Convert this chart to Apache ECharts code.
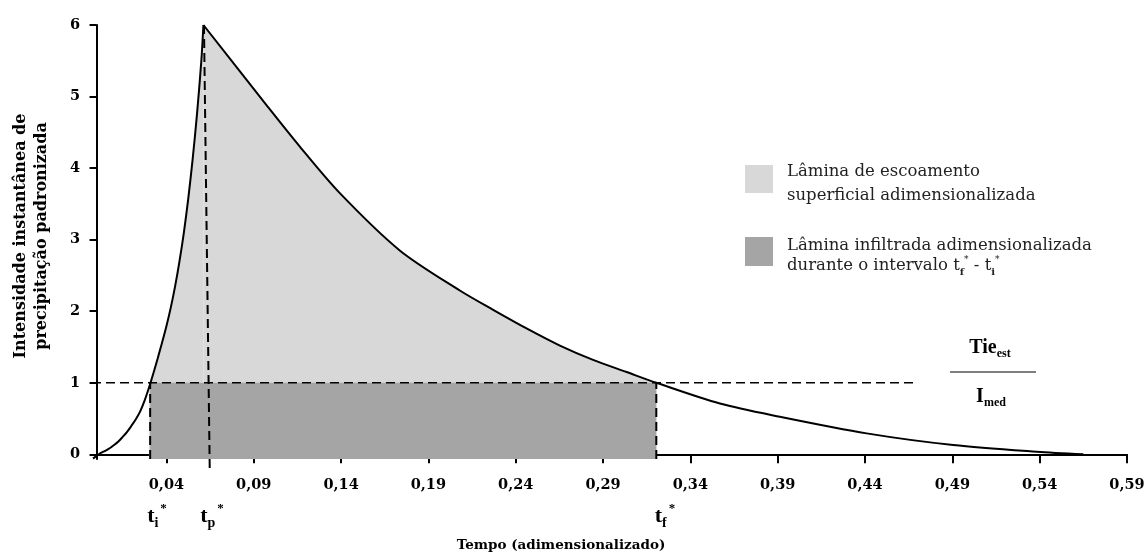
<!DOCTYPE html>
<html>
<head>
    <meta charset="UTF-8">
    <title>Intensidade instantânea de precipitação padronizada</title>
    <script src="https://cdn.jsdelivr.net/npm/echarts@6/dist/echarts.min.js"></script>
    <style>
        html, body { margin: 0; padding: 0; background: #fff; }
        #chart { width: 1144px; height: 554px; }
    </style>
</head>
<body>
    <div id="chart"></div>

    <script>
        // curva ascendente (até o pico)
        const riseT = [-0.002, 0.0025, 0.005, 0.0075, 0.01, 0.0125, 0.015, 0.0175, 0.02, 0.0225, 0.025, 0.0275,
                       0.03, 0.0325, 0.035, 0.0375, 0.04, 0.0425, 0.045, 0.0475, 0.05, 0.0525, 0.055, 0.0575,
                       0.06, 0.0612];
        const riseY = [-0.06, 0.02, 0.05, 0.085, 0.13, 0.18, 0.245, 0.315, 0.40, 0.49, 0.60, 0.75,
                       0.93, 1.13, 1.34, 1.56, 1.79, 2.05, 2.35, 2.70, 3.1, 3.57, 4.12, 4.75,
                       5.5, 6];

        // curva descendente (recessão)
        const fallT = [0.0612, 0.0973, 0.1164, 0.1393, 0.1736, 0.2080, 0.2271, 0.2462, 0.2653, 0.2843, 0.3035, 0.3205,
                       0.3569, 0.3913, 0.4409, 0.4905, 0.5383, 0.565];
        const fallY = [6, 4.88, 4.30, 3.65, 2.85, 2.29, 2.02, 1.76, 1.52, 1.32, 1.15, 1.0,
                       0.71, 0.525, 0.293, 0.13, 0.036, 0];

        // instantes característicos
        const ti = 0.0307;
        const tf = 0.3205;
        const tpTop = [0.0615, 6];
        const tpBottom = [0.0648, -0.19];
        const tieLevel = 1;
        const tieEnd = 0.4703;

        // rótulos dos eixos
        const xTicks = [0.04, 0.09, 0.14, 0.19, 0.24, 0.29, 0.34, 0.39, 0.44, 0.49, 0.54, 0.59];
        const yTicks = [0, 1, 2, 3, 4, 5, 6];

        const xMin = -0.0026, xMax = 0.59;
        const yMin = -0.065, yMax = 6;

        const rise = riseT.map((t, i) => [t, riseY[i]]);
        const fall = fallT.map((t, i) => [t, fallY[i]]);
        // a área clara começa no ponto da curva logo antes de ti (o retângulo escuro cobre o resto)
        const riseFill = rise.filter(p => p[0] >= ti - 0.001);
        const fallFill = fall.filter(p => p[0] <= tf);

        const serif = 'DejaVu Serif';
        const times = 'Liberation Serif';
        const LIGHT = '#d8d8d8';
        const DARK = '#a5a5a5';
        const dash = [9, 5];
        const SMOOTH = 0.3;

        const chart = echarts.init(document.getElementById('chart'));

        function dashed(data, width, extra) {
            return Object.assign({
                type: 'line',
                data: data,
                symbol: 'none',
                z: 3,
                silent: true,
                lineStyle: { color: '#000', width: width, type: dash }
            }, extra || {});
        }

        function fill(data, color, smooth, z) {
            return {
                type: 'line',
                data: data,
                symbol: 'none',
                smooth: smooth,
                z: z,
                silent: true,
                lineStyle: { width: 0, opacity: 0 },
                areaStyle: { color: color, opacity: 1, origin: 'start' }
            };
        }

        function curve(data) {
            return {
                type: 'line',
                data: data,
                symbol: 'none',
                smooth: SMOOTH,
                z: 5,
                silent: true,
                lineStyle: { color: '#000', width: 2 }
            };
        }

        const tLabel = (sub, x, y) => ({
            type: 'text',
            x: x, y: y,
            style: {
                text: '{t|t}{s|' + sub + '}{u|*}',
                align: 'center',
                verticalAlign: 'middle',
                rich: {
                    t: { fontFamily: times, fontWeight: 'bold', fontSize: 22, lineHeight: 28, fill: '#000', verticalAlign: 'middle' },
                    s: { fontFamily: times, fontWeight: 'bold', fontSize: 14, lineHeight: 15, fill: '#000', verticalAlign: 'bottom' },
                    u: { fontFamily: times, fontWeight: 'bold', fontSize: 13, lineHeight: 12, fill: '#000', verticalAlign: 'top', padding: [0, 0, 0, 2] }
                }
            }
        });

        const legendText = (text, x, y) => ({
            type: 'text',
            x: x, y: y,
            style: {
                text: text,
                fontFamily: serif,
                fontSize: 16.5,
                fill: '#222',
                verticalAlign: 'middle'
            }
        });

        const option = {
            animation: false,
            grid: { left: 92, right: 17, top: 25, bottom: 95, containLabel: false, outerBoundsMode: 'none' },
            xAxis: {
                type: 'value',
                min: xMin,
                max: xMax,
                axisLine: { lineStyle: { color: '#000', width: 2 } },
                axisTick: { customValues: xTicks, length: 9, lineStyle: { color: '#000', width: 2 } },
                axisLabel: {
                    customValues: xTicks,
                    formatter: v => v.toFixed(2).replace('.', ','),
                    fontFamily: serif, fontWeight: 'bold', fontSize: 14.5, color: '#000', margin: 19
                },
                splitLine: { show: false }
            },
            yAxis: {
                type: 'value',
                min: yMin,
                max: yMax,
                axisLine: { show: true, lineStyle: { color: '#000', width: 2 } },
                axisTick: { show: true, customValues: yTicks, length: 7, lineStyle: { color: '#000', width: 2 } },
                axisLabel: {
                    customValues: yTicks,
                    formatter: v => String(v),
                    fontFamily: serif, fontWeight: 'bold', fontSize: 14.5, color: '#000', margin: 12
                },
                splitLine: { show: false }
            },
            series: [
                fill(riseFill, LIGHT, SMOOTH, 1),
                fill(fallFill, LIGHT, SMOOTH, 1),
                fill([[ti, tieLevel], [tf, tieLevel]], DARK, false, 2),
                dashed([[xMin, tieLevel], [tieEnd, tieLevel]], 1.6),
                dashed([[ti, yMin], [ti, tieLevel]], 2),
                dashed([[tf, yMin], [tf, tieLevel]], 2),
                dashed([tpTop, tpBottom], 2, { clip: false }),
                curve(rise),
                curve(fall)
            ],
            graphic: [
                // legenda
                { type: 'rect', shape: { x: 745, y: 165, width: 28, height: 28 }, style: { fill: LIGHT } },
                { type: 'rect', shape: { x: 745, y: 237, width: 28, height: 29 }, style: { fill: DARK } },
                legendText('Lâmina de escoamento', 787, 172),
                legendText('superficial adimensionalizada', 787, 196),
                legendText('Lâmina infiltrada adimensionalizada', 787, 246),
                {
                    type: 'text',
                    x: 787, y: 266,
                    style: {
                        text: '{r|durante o intervalo t}{s|f}{u|*}{r| - t}{s|i}{u|*}',
                        verticalAlign: 'middle',
                        rich: {
                            r: { fontFamily: serif, fontSize: 16.5, lineHeight: 22, fill: '#222', verticalAlign: 'middle' },
                            s: { fontFamily: serif, fontWeight: 'bold', fontSize: 10, lineHeight: 12, fill: '#222', verticalAlign: 'bottom' },
                            u: { fontFamily: serif, fontSize: 9, lineHeight: 12, fill: '#222', verticalAlign: 'top' }
                        }
                    }
                },
                // rótulo da área
                {
                    type: 'text', x: 262, y: 279,
                    style: { text: 'LES*', fontFamily: times, fontWeight: 'bold', fontSize: 25, fill: '#000', verticalAlign: 'middle' }
                },
                // Tie_est / I_med
                {
                    type: 'text', x: 990, y: 348,
                    style: {
                        text: '{a|Tie}{b|est}', align: 'center', verticalAlign: 'middle',
                        rich: {
                            a: { fontFamily: times, fontWeight: 'bold', fontSize: 20, lineHeight: 24, fill: '#000', verticalAlign: 'middle' },
                            b: { fontFamily: times, fontWeight: 'bold', fontSize: 12, lineHeight: 12, fill: '#000', verticalAlign: 'bottom' }
                        }
                    }
                },
                { type: 'line', shape: { x1: 950, y1: 372, x2: 1036, y2: 372 }, style: { stroke: '#000', lineWidth: 1.2 } },
                {
                    type: 'text', x: 991, y: 397,
                    style: {
                        text: '{a|I}{b|med}', align: 'center', verticalAlign: 'middle',
                        rich: {
                            a: { fontFamily: times, fontWeight: 'bold', fontSize: 20, lineHeight: 24, fill: '#000', verticalAlign: 'middle' },
                            b: { fontFamily: times, fontWeight: 'bold', fontSize: 12, lineHeight: 12, fill: '#000', verticalAlign: 'bottom' }
                        }
                    }
                },
                // instantes
                tLabel('i', 157, 516),
                tLabel('p', 212, 516),
                tLabel('f', 665, 516),
                // títulos dos eixos
                {
                    type: 'text', x: 561, y: 545,
                    style: { text: 'Tempo (adimensionalizado)', fontFamily: serif, fontWeight: 'bold', fontSize: 13.5, fill: '#000', align: 'center', verticalAlign: 'middle' }
                },
                {
                    type: 'text', x: 21, y: 236, rotation: Math.PI / 2,
                    style: { text: 'Intensidade instantânea de', fontFamily: serif, fontWeight: 'bold', fontSize: 16, fill: '#000', align: 'center', verticalAlign: 'middle' }
                },
                {
                    type: 'text', x: 42, y: 236, rotation: Math.PI / 2,
                    style: { text: 'precipitação padronizada', fontFamily: serif, fontWeight: 'bold', fontSize: 16, fill: '#000', align: 'center', verticalAlign: 'middle' }
                }
            ]
        };

        chart.setOption(option);
        window.addEventListener('resize', () => chart.resize());
    </script>
</body>
</html>
